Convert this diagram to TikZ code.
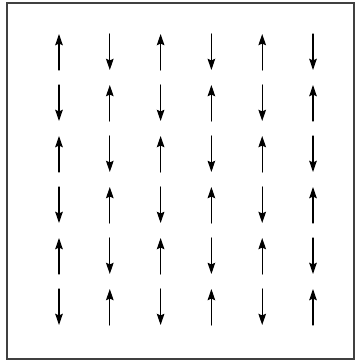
\documentclass[tikz,border=0pt]{standalone}
\usetikzlibrary{arrows.meta}
\begin{document}
\begin{tikzpicture}[x=0.025cm,y=-0.025cm,line cap=round,>={Stealth[length=8pt,width=5.4pt,inset=1.2pt]}]
	\useasboundingbox (0,0) rectangle (357,363);
	\draw[line width=0.9pt,black!75] (7,3) rectangle (354,359);
	\foreach \i in {0,...,5}{
		\foreach \j in {0,...,5}{
			\pgfmathsetmacro{\s}{1-2*mod(\i+\j,2)}
			\draw[->,line width=0.8pt] (59+50.8*\j,52+51*\i+18*\s) -- (59+50.8*\j,52+51*\i-18*\s);
		}
	}
\end{tikzpicture}
\end{document}
